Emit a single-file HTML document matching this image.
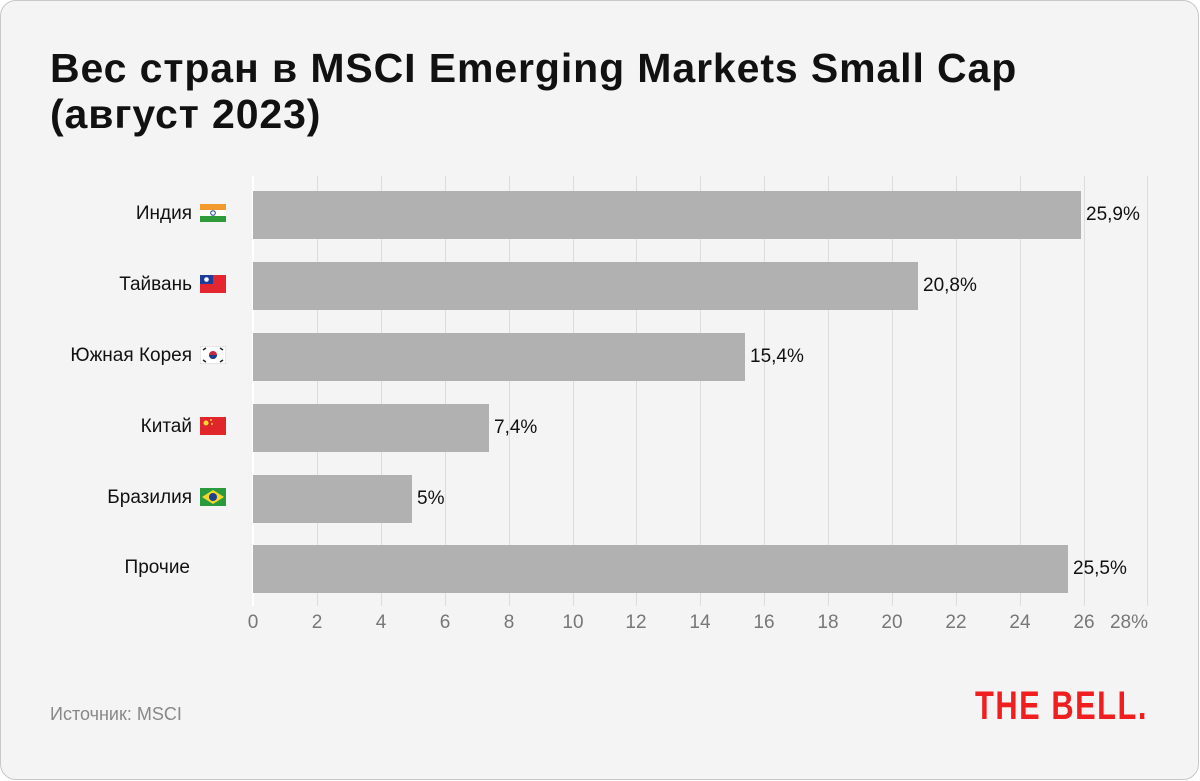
<!DOCTYPE html>
<html><head><meta charset="utf-8"><style>
body{margin:0;width:1200px;height:781px;background:#fff;font-family:"Liberation Sans",sans-serif;}
.card{position:absolute;left:0;top:0;width:1197px;height:778px;border:1.5px solid #c8c8c8;border-radius:16px;background:#f4f4f4;overflow:hidden}
.t{position:absolute;left:49px;top:44px;font-size:41px;font-weight:bold;line-height:46px;color:#111;letter-spacing:0.9px}
.lbl{position:absolute;right:972px;font-size:19px;color:#111;height:48px;line-height:48px;white-space:nowrap}
.lbl svg{vertical-align:-3px;margin-left:8px}
.bar{position:absolute;left:252px;height:48px;background:#b1b1b1}
.val{position:absolute;font-size:19px;color:#111;height:48px;line-height:48px}
.g{position:absolute;top:175px;height:430px;width:1px;background:#dcdcdc}
.tk{position:absolute;top:611px;font-size:19px;color:#777;transform:translateX(-50%)}
</style></head><body><div class="card">
<div class="t">Вес стран в MSCI Emerging Markets Small Cap<br>(август 2023)</div>
<div class="g" style="left:251px;background:#fff;width:2px"></div>
<div class="g" style="left:316px"></div><div class="g" style="left:380px"></div><div class="g" style="left:444px"></div><div class="g" style="left:508px"></div><div class="g" style="left:572px"></div><div class="g" style="left:635px"></div><div class="g" style="left:699px"></div><div class="g" style="left:763px"></div><div class="g" style="left:827px"></div><div class="g" style="left:891px"></div><div class="g" style="left:955px"></div><div class="g" style="left:1019px"></div><div class="g" style="left:1083px"></div><div class="g" style="left:1146px"></div>

<div class="bar" style="top:190px;width:828px"></div><div class="val" style="top:190px;left:1085px">25,9%</div>
<div class="bar" style="top:261px;width:665px"></div><div class="val" style="top:261px;left:922px">20,8%</div>
<div class="bar" style="top:332px;width:492px"></div><div class="val" style="top:332px;left:749px">15,4%</div>
<div class="bar" style="top:403px;width:236px"></div><div class="val" style="top:403px;left:493px">7,4%</div>
<div class="bar" style="top:474px;width:159px"></div><div class="val" style="top:474px;left:416px">5%</div>
<div class="bar" style="top:544px;width:815px"></div><div class="val" style="top:544px;left:1072px">25,5%</div>

<div class="lbl" style="top:189px">Индия<svg width="26" height="18"><rect width="26" height="6" fill="#f39a2e"/><rect y="6" width="26" height="6" fill="#fff"/><rect y="12" width="26" height="6" fill="#2f9a3a"/><circle cx="13" cy="9" r="2.3" fill="none" stroke="#1d3c8f"/></svg></div>
<div class="lbl" style="top:260px">Тайвань<svg width="26" height="18"><rect width="26" height="18" fill="#e3262f"/><rect width="13" height="9" fill="#1e3c9c"/><circle cx="6.5" cy="4.5" r="2.3" fill="#fff"/></svg></div>
<div class="lbl" style="top:331px">Южная Корея<svg width="26" height="18"><rect width="26" height="18" fill="#fff" stroke="#ccc"/><circle cx="13" cy="9" r="4" fill="#c9283e"/><path d="M9 9a4 4 0 0 0 8 0z" fill="#1a3f8f"/><g stroke="#222" stroke-width="1.5"><path d="M3 4l3-2M20 2l3 2M3 14l3 2M20 16l3-2"/></g></svg></div>
<div class="lbl" style="top:402px">Китай<svg width="26" height="18"><rect width="26" height="18" fill="#e0262b"/><circle cx="6" cy="6" r="2.5" fill="#f9dc2f"/><circle cx="11" cy="3" r="1" fill="#f9dc2f"/><circle cx="12" cy="7" r="1" fill="#f9dc2f"/></svg></div>
<div class="lbl" style="top:473px">Бразилия<svg width="26" height="18"><rect width="26" height="18" fill="#2a9a3e"/><path d="M13 2L24 9 13 16 2 9z" fill="#f7d62b"/><circle cx="13" cy="9" r="4" fill="#1e3f8f"/></svg></div>
<div class="lbl" style="top:543px;right:1008px">Прочие</div>

<div class="tk" style="left:252px">0</div><div class="tk" style="left:316px">2</div><div class="tk" style="left:380px">4</div><div class="tk" style="left:444px">6</div><div class="tk" style="left:508px">8</div><div class="tk" style="left:572px">10</div><div class="tk" style="left:635px">12</div><div class="tk" style="left:699px">14</div><div class="tk" style="left:763px">16</div><div class="tk" style="left:827px">18</div><div class="tk" style="left:891px">20</div><div class="tk" style="left:955px">22</div><div class="tk" style="left:1019px">24</div><div class="tk" style="left:1083px">26</div><div class="tk" style="left:1128px">28%</div>

<div style="position:absolute;left:49px;top:703px;font-size:18px;color:#888">Источник: MSCI</div>
<div style="position:absolute;left:974px;top:683px;font-size:40px;font-weight:900;color:#f01e1e;transform:scaleX(0.77);transform-origin:left;letter-spacing:2px;white-space:nowrap;font-family:'Liberation Sans Narrow','Liberation Sans',sans-serif">THE BELL.</div>
</div></body></html>
